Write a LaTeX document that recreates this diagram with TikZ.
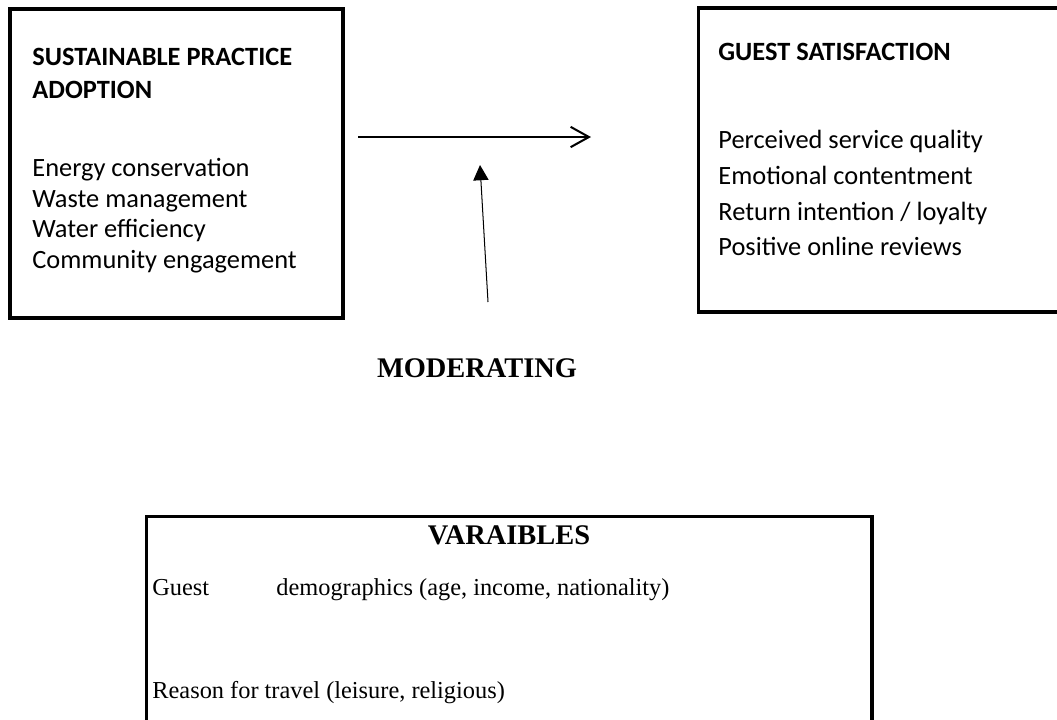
\documentclass[tikz,border=0pt]{standalone}
\usepackage{fontspec}
\setmainfont{Liberation Serif}
\newfontfamily\calib{Carlito}
\usetikzlibrary{arrows.meta}
\begin{document}
\begin{tikzpicture}[x=0.4926pt, y=-0.4926pt,
  frame/.style={draw=black, line width=1.5pt, rectangle, inner sep=0pt},
  cal/.style={font=\calib\fontsize{13}{15}\selectfont, anchor=base west, inner sep=0pt},
  calhead/.style={font=\calib\bfseries\fontsize{13}{15}\selectfont, anchor=base west, inner sep=0pt},
  tms/.style={font=\fontsize{12}{14}\selectfont, anchor=base west, inner sep=0pt},
  tmshead/.style={font=\bfseries\fontsize{14}{16}\selectfont, anchor=base, inner sep=0pt},
  mainlink/.style={line width=1pt, -{Straight Barb[length=9pt, width=10pt, line width=1pt]}},
  modlink/.style={line width=0.5pt, -{Triangle[length=7.5pt, width=7.5pt]}}]
\useasboundingbox (0,0) rectangle (1057,719);
\clip (0,0) rectangle (1057,719);

% boxes
\node[frame, minimum width=164.04pt, minimum height=152.2pt] (lbox) at (176.5,163.5) {};
\node[frame, minimum width=198.0pt, minimum height=149.75pt] (rbox) at (899,160) {};
\node[frame, minimum width=357.6pt, minimum height=130.0pt] (vbox) at (509,648) {};

% independent variable
\node[calhead] (lh1) at (32,65) {SUSTAINABLE PRACTICE};
\node[calhead] (lh2) at (32,98) {ADOPTION};
\node[cal] (l1) at (32,176) {Energy conservation};
\node[cal] (l2) at (32,207) {Waste management};
\node[cal] (l3) at (32,237) {Water efficiency};
\node[cal] (l4) at (32,268) {Community engagement};

% dependent variable
\node[calhead] (rh) at (718,60) {GUEST SATISFACTION};
\node[cal] (r1) at (718,148) {Perceived service quality};
\node[cal] (r2) at (718,184) {Emotional contentment};
\node[cal] (r3) at (718,220) {Return intention / loyalty};
\node[cal] (r4) at (718,255) {Positive online reviews};

% moderator
\node[tmshead] (mod) at (477,377) {MODERATING};
\node[tmshead] (vh) at (509,544) {VARAIBLES};
\node[tms] (v1) at (152,595) {\makebox[61.1pt][l]{Guest}demographics (age, income, nationality)};
\node[tms] (v2) at (152,698) {Reason for travel (leisure, religious)};

% arrows
\coordinate (hstart) at (358,137);
\coordinate (hend) at (591,137);
\draw[mainlink] (hstart) -- (hend);
\coordinate (mstart) at (488,302);
\coordinate (mend) at (480,165);
\draw[modlink] (mstart) -- (mend);
\end{tikzpicture}
\end{document}
